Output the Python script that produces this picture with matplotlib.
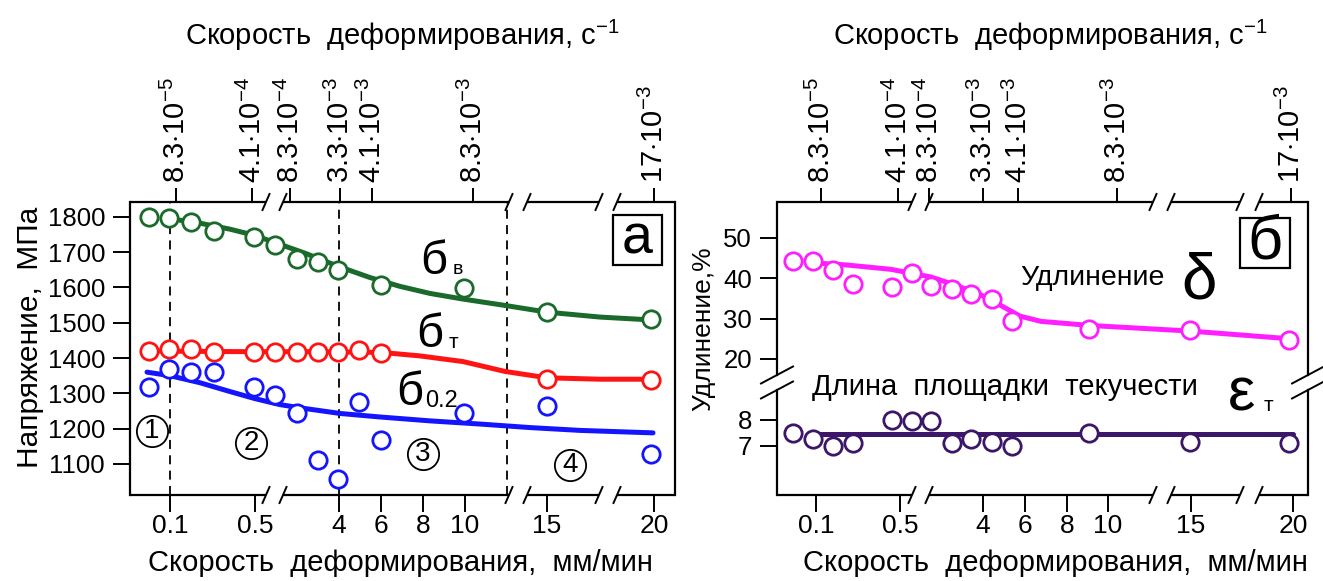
import numpy as np
import matplotlib
matplotlib.use("Agg")
import matplotlib.pyplot as plt
from matplotlib.patches import Rectangle

plt.rcParams['font.family'] = ['Liberation Sans', 'DejaVu Sans']
plt.rcParams['mathtext.fontset'] = 'custom'
plt.rcParams['mathtext.rm'] = 'Liberation Sans'
plt.rcParams['mathtext.it'] = 'Liberation Sans:italic'
plt.rcParams['mathtext.bf'] = 'Liberation Sans:bold'

W, H = 1323, 581

# ---------- панель а: напряжения ----------
pos_a = [19, 39, 61, 84, 124, 145, 167, 188, 208, 229, 251, 334, 417, 521]
sigma_v = [1799, 1796, 1785, 1760, 1743, 1719, 1681, 1671, 1650, np.nan, 1608, 1599, 1529, 1510]
sigma_t = [1420, 1426, 1426, 1416, 1416, 1416, 1416, 1418, 1418, 1423, 1413, np.nan, 1341, 1338]
sigma_02 = [1317, 1370, 1361, 1361, 1317, 1295, 1243, 1112, 1057, 1276, 1168, 1245, 1264, 1129]

fit_v_x = [39, 70, 100, 124, 150, 175, 208, 240, 270, 300, 333, 375, 417, 470, 521]
fit_v = [1795, 1782, 1765, 1748, 1722, 1697, 1660, 1628, 1603, 1583, 1567, 1549, 1530, 1516, 1508]
fit_t_x = [19, 60, 120, 180, 251, 290, 333, 375, 417, 470, 521]
fit_t = [1420, 1419, 1418, 1418, 1416, 1406, 1390, 1362, 1344, 1340, 1340]
fit_02_x = [17, 40, 70, 100, 125, 150, 175, 210, 250, 300, 350, 400, 450, 523]
fit_02 = [1360, 1350, 1330, 1305, 1285, 1268, 1257, 1243, 1233, 1222, 1213, 1203, 1195, 1188]

ticks_a_bot = [40, 125, 209, 251, 293, 335, 417, 524]
ticks_a_top = [46, 122, 160, 210, 242, 343, 524]
breaks_a = [(136, 153), (379, 397), (469, 487)]
zones_a = [40, 209, 377]

# ---------- панель б: удлинение ----------
pos_b = [16, 36, 56, 76, 115, 135, 154, 175, 194, 215, 235, 312, 413, 512]
elong = [44.3, 44.3, 42.1, 38.5, 37.7, 41.4, 38.1, 37.3, 36.1, 34.8, 29.5, 27.3, 27.2, 24.7]
yield_len = [7.49, 7.26, 7.0, 7.1, 8.0, 7.97, 7.97, 7.13, 7.26, 7.17, 7.0, 7.51, 7.17, 7.13]

fit_el_x = [37, 69, 114, 154, 176, 203, 222, 243, 264, 312, 413, 512]
fit_el = [43.8, 43.3, 42.2, 40.3, 38.5, 36.0, 33.5, 30.6, 29.3, 28.3, 26.9, 25.0]
fit_yl_x = [36, 516]
fit_yl = [7.45, 7.45]

ticks_b_bot = [39, 123, 206, 248, 290, 331, 414, 516]
ticks_b_top = [44, 121, 152, 206, 241, 340, 514]
breaks_b = [(135, 152), (376, 394), (463, 482)]

bot_labels = ['0.1', '0.5', '4', '6', '8', '10', '15', '20']
top_labels = [r'8.3$\cdot$10$^{-5}$', r'4.1$\cdot$10$^{-4}$', r'8.3$\cdot$10$^{-4}$',
              r'3.3$\cdot$10$^{-3}$', r'4.1$\cdot$10$^{-3}$', r'8.3$\cdot$10$^{-3}$',
              r'17$\cdot$10$^{-3}$']

GREEN = '#1a6a2b'
RED = '#ff1414'
BLUE = '#1414ff'
MAGENTA = '#ff1eff'
PURPLE = '#3c1668'
FS = 18.5


def fbox(x0, y0, x1, y1):
    # пиксели -> доли фигуры
    return [x0 / W, 1 - y1 / H, (x1 - x0) / W, (y1 - y0) / H]


def broken_hline(ax, breaks, xmax, yfrac, h_px):
    tr = ax.get_xaxis_transform()
    edges = [0] + [v for ab in breaks for v in ab] + [xmax]
    for i in range(0, len(edges), 2):
        ax.plot([edges[i], edges[i + 1]], [yfrac, yfrac], color='k', lw=1.6,
                transform=tr, clip_on=False, solid_capstyle='butt')
    dy = 8 / h_px
    for ab in breaks:
        for v in ab:
            ax.plot([v - 3.5, v + 3.5], [yfrac - dy, yfrac + dy], color='k', lw=1.4,
                    transform=tr, clip_on=False)


def style_axis(ax, xmax, breaks, h_px, ticks_bot=None, ticks_top=None, top_ax=True, bot=True):
    for s in ('top', 'bottom'):
        ax.spines[s].set_visible(False)
    for s in ('left', 'right'):
        ax.spines[s].set_linewidth(1.6)
    ax.tick_params(axis='y', direction='out', length=12, width=1.4, pad=6, labelsize=FS)
    if bot:
        broken_hline(ax, breaks, xmax, 0, h_px)
        ax.set_xticks(ticks_bot, bot_labels)
        ax.tick_params(axis='x', direction='out', length=12, width=1.4, pad=2, labelsize=FS + 0.5)
    else:
        ax.set_xticks([])
    if top_ax:
        broken_hline(ax, breaks, xmax, 1, h_px)
        at = ax.twiny()
        for s in at.spines.values():
            s.set_visible(False)
        at.set_xlim(0, xmax)
        at.set_xticks(ticks_top, top_labels, rotation=90)
        at.tick_params(axis='x', direction='out', length=10, width=1.4, pad=4, labelsize=21)
    ax.set_xlim(0, xmax)


def series(ax, x, y, fx, fy, color):
    ax.plot(fx, fy, color=color, lw=3.6, solid_capstyle='round', zorder=2)
    ax.plot(x, y, 'o', ms=12.5, mfc='white', mec=color, mew=2.0, zorder=3, linestyle='none')


fig = plt.figure(figsize=(W / 100, H / 100), dpi=100)

# ---------- а ----------
ax_a = fig.add_axes(fbox(130, 202, 675, 495))
for xz in zones_a:
    ax_a.axvline(xz, color='k', lw=1.3, ls=(0, (5, 3.5)), zorder=1)
series(ax_a, pos_a, sigma_v, fit_v_x, fit_v, GREEN)
series(ax_a, pos_a, sigma_t, fit_t_x, fit_t, RED)
series(ax_a, pos_a, sigma_02, fit_02_x, fit_02, BLUE)
ax_a.set_yticks([1100, 1200, 1300, 1400, 1500, 1600, 1700, 1800])
style_axis(ax_a, 545, breaks_a, 293, ticks_a_bot, ticks_a_top)
ax_a.set_ylim(1012, 1842)

ax_a.text(304, 1671, 'б', fontsize=34, ha='center', va='center')
ax_a.text(328, 1650, 'в', fontsize=14, ha='center', va='center')
ax_a.text(300, 1466, 'б', fontsize=34, ha='center', va='center')
ax_a.text(323, 1445, 'т', fontsize=15, ha='center', va='center')
ax_a.text(280, 1300, 'б', fontsize=34, ha='center', va='center')
ax_a.text(311, 1277, '0.2', fontsize=17, ha='center', va='center')
for i, (zx, zy) in enumerate([(21.5, 1194), (121, 1159), (293, 1127), (440, 1098)]):
    ax_a.plot(zx, zy, 'o', ms=22.5, mfc='white', mec='k', mew=1.3, zorder=4)
    ax_a.text(zx, zy, str(i + 1), fontsize=20, ha='center', va='center', zorder=5)

# ---------- б ----------
ax_bu = fig.add_axes(fbox(777, 202, 1308, 375))
ax_bl = fig.add_axes(fbox(777, 390, 1308, 495))
series(ax_bu, pos_b, elong, fit_el_x, fit_el, MAGENTA)
series(ax_bl, pos_b, yield_len, fit_yl_x, fit_yl, PURPLE)
ax_bu.set_yticks([20, 30, 40, 50])
ax_bl.set_yticks([7, 8])
style_axis(ax_bu, 531, breaks_b, 173, ticks_top=ticks_b_top, bot=False)
style_axis(ax_bl, 531, breaks_b, 105, ticks_bot=ticks_b_bot, top_ax=False)
ax_bu.set_ylim(16.0, 58.9)
ax_bl.set_ylim(5.115, 9.15)

for ax, yf, hp in ((ax_bu, 0, 173), (ax_bl, 1, 105)):
    dx, dy = 16 / 531, 8.5 / hp
    for xf in (0, 1):
        ax.plot([xf - dx, xf + dx], [yf - dy, yf + dy], transform=ax.transAxes,
                color='k', lw=1.4, clip_on=False)

ax_bu.text(315, 40.1, 'Удлинение', fontsize=20.5, ha='center', va='center')
ax_bu.text(422, 39.1, 'δ', fontsize=46, ha='center', va='center')
fig.text(812 / W, 1 - 387 / H, 'Длина  площадки  текучести', fontsize=21,
         ha='left', va='center')
ax_bl.text(464, 8.96, 'ε', fontsize=44, ha='center', va='center', clip_on=False)
ax_bl.text(491, 8.54, 'т', fontsize=15, ha='center', va='center', clip_on=False)

# рамки с буквами
for (x0, y0, x1, y1), letter, fs in (((613, 215, 662, 265), 'а', 40),
                                     ((1240, 218, 1290, 268), 'б', 44)):
    fig.add_artist(Rectangle((x0 / W, 1 - y1 / H), (x1 - x0) / W, (y1 - y0) / H,
                             transform=fig.transFigure, fill=False, ec='k', lw=1.6))
    fig.text((x0 + x1) / 2 / W, 1 - (y0 + y1) / 2 / H, letter, fontsize=fs,
             ha='center', va='center')

# подписи осей
for cx in (402, 1050):
    fig.text(cx / W, 1 - 35 / H, r'Скорость  деформирования, с$^{-1}$', fontsize=21,
             ha='center', va='center')
for cx in (400, 1055):
    fig.text(cx / W, 1 - 563 / H, 'Скорость  деформирования,  мм/мин', fontsize=21,
             ha='center', va='center')
fig.text(30 / W, 1 - 337 / H, 'Напряжение,  МПа', fontsize=21.5, rotation=90,
         ha='center', va='center')
fig.text(703 / W, 1 - 329 / H, 'Удлинение,%', fontsize=19, rotation=90,
         ha='center', va='center')

fig.savefig('out.png', dpi=100)
